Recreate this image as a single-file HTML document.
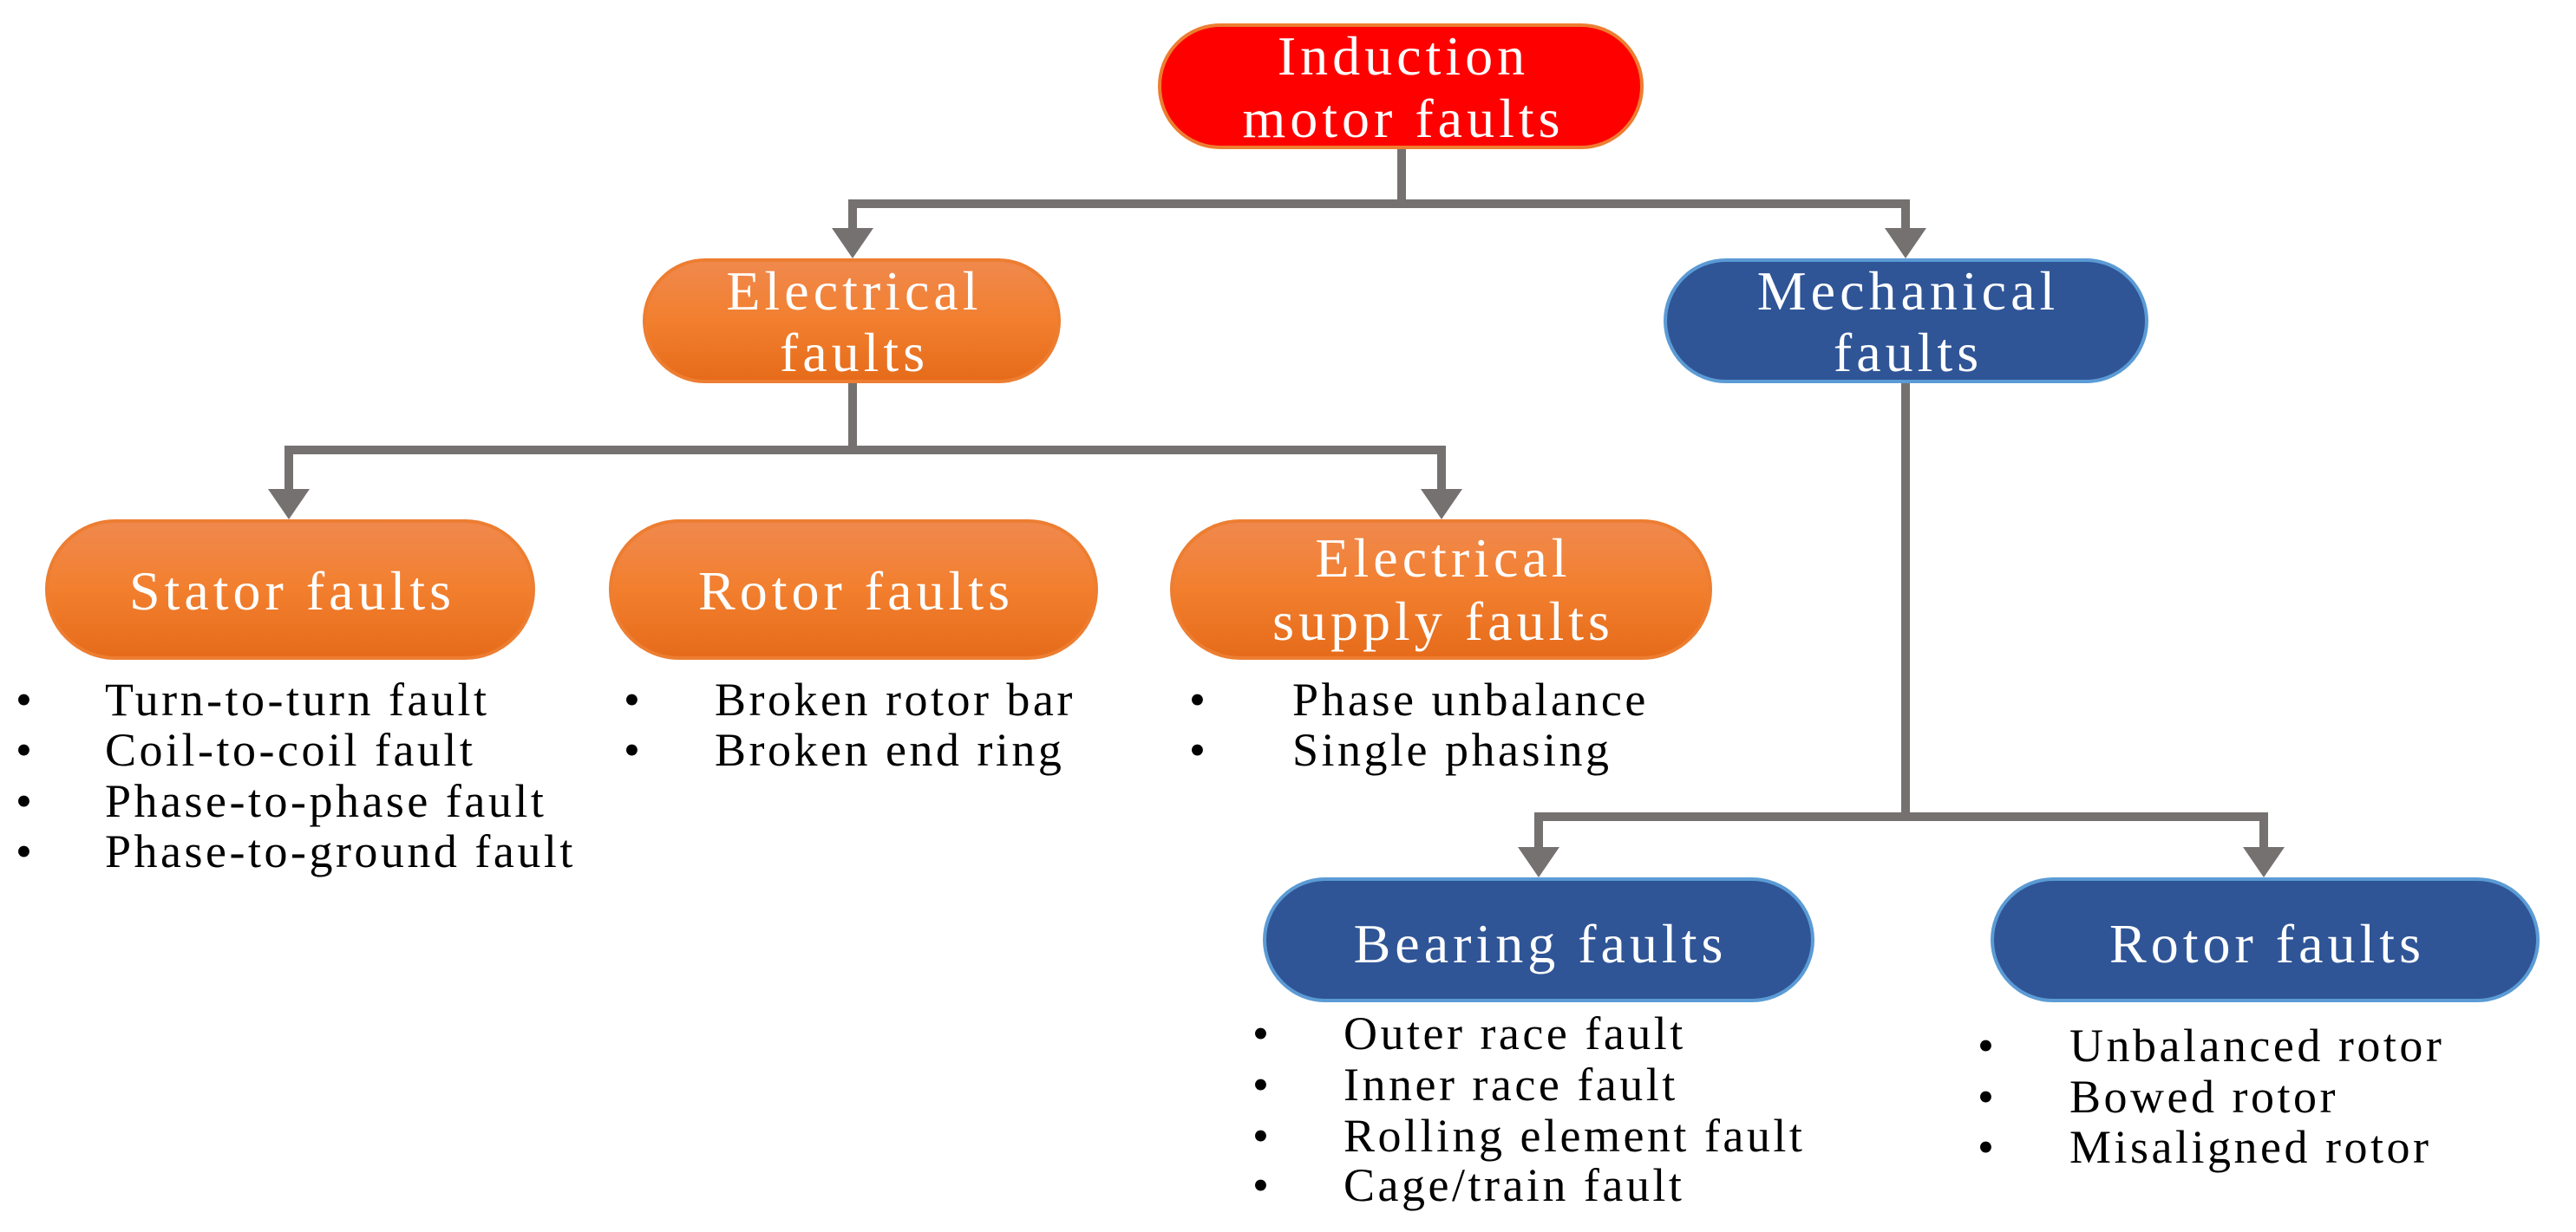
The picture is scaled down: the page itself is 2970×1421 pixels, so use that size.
<!DOCTYPE html>
<html><head><meta charset="utf-8"><style>
html,body{margin:0;padding:0;background:#fff;}
svg{display:block;}
.n{font-family:"Liberation Serif",serif;font-size:64px;fill:#fff;letter-spacing:5px;}
.l{font-family:"Liberation Serif",serif;font-size:54px;fill:#000;letter-spacing:3.5px;}
</style></head><body>
<svg width="2970" height="1421" viewBox="0 0 2970 1421" xmlns="http://www.w3.org/2000/svg">
<defs>
<linearGradient id="og" x1="0" y1="0" x2="0" y2="1">
<stop offset="0" stop-color="#F0894E"/><stop offset="0.5" stop-color="#F27F2E"/><stop offset="1" stop-color="#E56B1A"/>
</linearGradient>
</defs>
<g fill="none" stroke="#767171" stroke-width="10">
<path d="M1616 170 V235 M983 235 H2197 M983 230 V268 M2197 230 V268"/>
<path d="M983 440 V519 M333 519 H1662 M333 514 V568 M1662 514 V568"/>
<path d="M2197 440 V942 M1774 942 H2610 M1774 937 V980 M2610 937 V980"/>
</g>
<g fill="#767171">
<path d="M959 263 L1007 263 L983 298 Z"/>
<path d="M2173 263 L2221 263 L2197 298 Z"/>
<path d="M309 564 L357 564 L333 599 Z"/>
<path d="M1638 564 L1686 564 L1662 599 Z"/>
<path d="M1750 977 L1798 977 L1774 1012 Z"/>
<path d="M2586 977 L2634 977 L2610 1012 Z"/>
</g>
<rect x="1337" y="29" width="556" height="141" rx="70" fill="#FF0000" stroke="#ED7D31" stroke-width="4"/>
<rect x="743" y="300" width="478" height="140" rx="70" fill="url(#og)" stroke="#ED7D31" stroke-width="4"/>
<rect x="1920" y="300" width="555" height="140" rx="70" fill="#2F5597" stroke="#5B9BD5" stroke-width="4"/>
<rect x="54" y="601" width="561" height="158" rx="79" fill="url(#og)" stroke="#ED7D31" stroke-width="4"/>
<rect x="704" y="601" width="560" height="158" rx="79" fill="url(#og)" stroke="#ED7D31" stroke-width="4"/>
<rect x="1351" y="601" width="621" height="158" rx="79" fill="url(#og)" stroke="#ED7D31" stroke-width="4"/>
<rect x="1458" y="1014" width="632" height="140" rx="70" fill="#2F5597" stroke="#5B9BD5" stroke-width="4"/>
<rect x="2297" y="1014" width="629" height="140" rx="70" fill="#2F5597" stroke="#5B9BD5" stroke-width="4"/>
<g class="n" text-anchor="middle">
<text x="1618" y="86">Induction</text>
<text x="1618" y="158">motor faults</text>
<text x="985" y="357">Electrical</text>
<text x="985" y="428">faults</text>
<text x="2200" y="357">Mechanical</text>
<text x="2200" y="428">faults</text>
<text x="337" y="703">Stator faults</text>
<text x="987" y="703">Rotor faults</text>
<text x="1664" y="665">Electrical</text>
<text x="1664" y="738">supply faults</text>
<text x="1776" y="1110">Bearing faults</text>
<text x="2614" y="1110">Rotor faults</text>
</g>
<g class="l">
<text x="18" y="825">•</text><text x="121" y="825">Turn-to-turn fault</text>
<text x="18" y="883">•</text><text x="121" y="883">Coil-to-coil fault</text>
<text x="18" y="942">•</text><text x="121" y="942">Phase-to-phase fault</text>
<text x="18" y="1000">•</text><text x="121" y="1000">Phase-to-ground fault</text>
<text x="719" y="825">•</text><text x="824" y="825">Broken rotor bar</text>
<text x="719" y="883">•</text><text x="824" y="883">Broken end ring</text>
<text x="1371" y="825">•</text><text x="1490" y="825">Phase unbalance</text>
<text x="1371" y="883">•</text><text x="1490" y="883">Single phasing</text>
<text x="1444" y="1210">•</text><text x="1549" y="1210">Outer race fault</text>
<text x="1444" y="1269">•</text><text x="1549" y="1269">Inner race fault</text>
<text x="1444" y="1328">•</text><text x="1549" y="1328">Rolling element fault</text>
<text x="1444" y="1385">•</text><text x="1549" y="1385">Cage/train fault</text>
<text x="2280" y="1224">•</text><text x="2386" y="1224">Unbalanced rotor</text>
<text x="2280" y="1283">•</text><text x="2386" y="1283">Bowed rotor</text>
<text x="2280" y="1341">•</text><text x="2386" y="1341">Misaligned rotor</text>
</g>
</svg>
</body></html>
